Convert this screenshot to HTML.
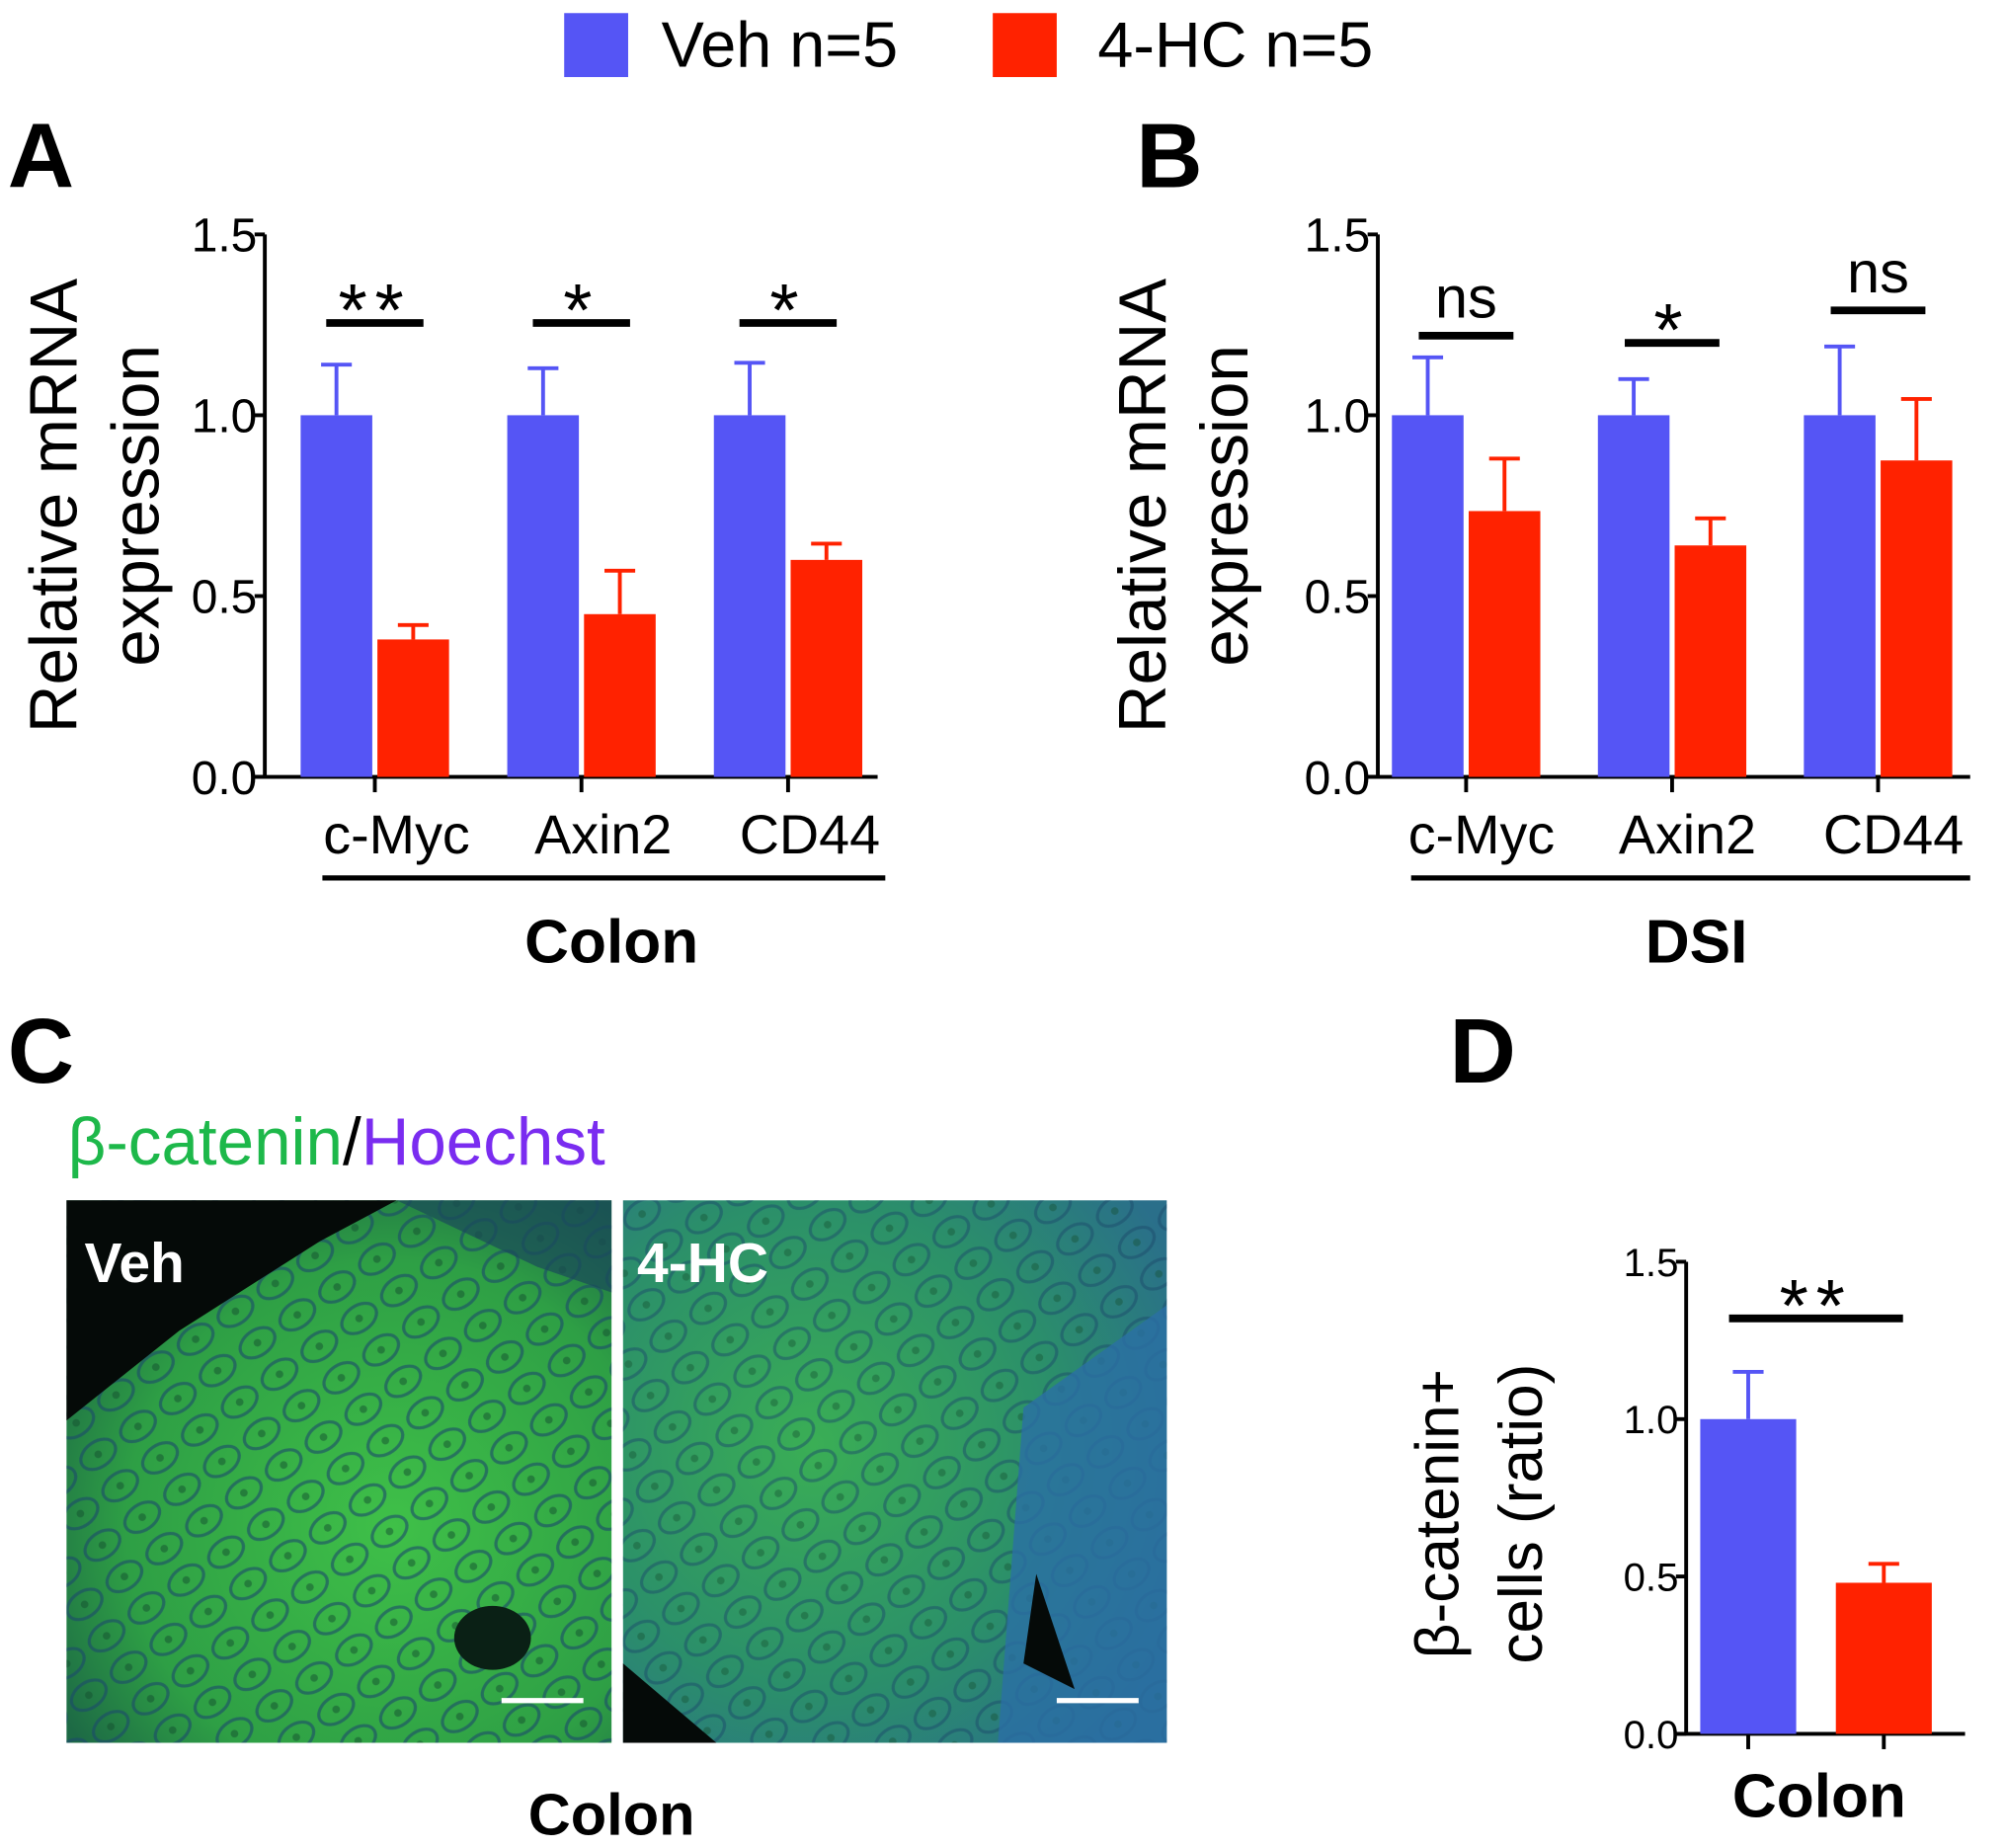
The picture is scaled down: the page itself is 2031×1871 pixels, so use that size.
<!DOCTYPE html>
<html><head><meta charset="utf-8"><style>
html,body{margin:0;padding:0;background:#fff;}
svg{display:block;}
text{font-family:"Liberation Sans",Arial,sans-serif;}
</style></head><body>
<svg id="fig" width="2031" height="1871" viewBox="0 0 1568 1444" xmlns="http://www.w3.org/2000/svg">
<defs>
<radialGradient id="gv" cx="0.6" cy="0.6" r="0.7"><stop offset="0" stop-color="#3fc048"/><stop offset="0.7" stop-color="#2e9f45"/><stop offset="1" stop-color="#1d6a45"/></radialGradient>
<radialGradient id="gh" cx="0.35" cy="0.45" r="0.75"><stop offset="0" stop-color="#3aae55"/><stop offset="0.6" stop-color="#2b8f6a"/><stop offset="1" stop-color="#2a6f8a"/></radialGradient>
<pattern id="crypt" width="38" height="30" patternUnits="userSpaceOnUse" patternTransform="rotate(-35)"><ellipse cx="19" cy="15" rx="15" ry="10" fill="none" stroke="#1a4a6a" stroke-width="2.5" opacity="0.6"/><circle cx="19" cy="15" r="3" fill="#145030" opacity="0.5"/></pattern>
</defs>
<g>
<rect x="441" y="10" width="50" height="50" fill="#5555f5"/>
<text x="517" y="52" font-size="50">Veh n=5</text>
<rect x="776" y="10" width="50" height="50" fill="#ff2200"/>
<text x="858" y="52" font-size="50">4-HC n=5</text>
</g>
<text x="6" y="146" font-size="72" font-weight="bold">A</text>
<text x="888" y="146" font-size="72" font-weight="bold">B</text>
<text x="6" y="846" font-size="72" font-weight="bold">C</text>
<text x="1133" y="846" font-size="72" font-weight="bold">D</text>
<g id="pa"></g>
<g id="pb"></g>
<g id="pd"></g>
<g>
<text x="53" y="910" font-size="52"><tspan fill="#1db84a">β-catenin</tspan><tspan fill="#000">/</tspan><tspan fill="#7a2cf0">Hoechst</tspan></text>
<g>
<rect x="52" y="938" width="426" height="424" fill="url(#gv)"/>
<rect x="52" y="938" width="426" height="424" fill="url(#crypt)"/>
<polygon points="52,938 310,938 250,970 140,1040 52,1110" fill="#050a08"/>
<polygon points="310,938 478,938 478,1010 420,990" fill="#1a4a5a" opacity="0.7"/>
<ellipse cx="385" cy="1280" rx="30" ry="25" fill="#0a2015"/>
<text x="66" y="1002" font-size="44" font-weight="bold" fill="#fff">Veh</text>
<line x1="392" y1="1329" x2="456" y2="1329" stroke="#fff" stroke-width="4"/>
</g>
<g>
<rect x="487" y="938" width="425" height="424" fill="url(#gh)"/>
<rect x="487" y="938" width="425" height="424" fill="url(#crypt)" opacity="0.8"/>
<polygon points="800,1100 912,1020 912,1362 780,1362" fill="#2a6fa5" opacity="0.8"/>
<polygon points="487,1300 487,1362 560,1362" fill="#050a08"/>
<polygon points="810,1230 840,1320 800,1300" fill="#050a08"/>
<text x="498" y="1002" font-size="44" font-weight="bold" fill="#fff">4-HC</text>
<line x1="826" y1="1329" x2="890" y2="1329" stroke="#fff" stroke-width="4"/>
</g>
<text x="478" y="1434" font-size="46" font-weight="bold" text-anchor="middle">Colon</text>
</g>
</svg>
<script>
// Panel A data
const catsA = ["c-Myc","Axin2","CD44"];
const vehA = [1.0,1.0,1.0];
const vehErrA = [0.14,0.13,0.145];
const hcA = [0.38,0.45,0.60];
const hcErrA = [0.04,0.12,0.045];
const sigA = ["**","*","*"];
// Panel B data
const catsB = ["c-Myc","Axin2","CD44"];
const vehB = [1.0,1.0,1.0];
const vehErrB = [0.16,0.10,0.19];
const hcB = [0.735,0.64,0.875];
const hcErrB = [0.145,0.075,0.17];
const sigB = ["ns","*","ns"];
const sigYB = [1.22,1.2,1.29];
// Panel D data
const catsD = ["Colon"];
const vehD = [1.0];
const vehErrD = [0.15];
const hcD = [0.48];
const hcErrD = [0.06];
const sigD = ["**"];
const ticks = [0,0.5,1.0,1.5];
const tickLabels = ["0.0","0.5","1.0","1.5"];

const NS="http://www.w3.org/2000/svg";
function mk(parent,tag,attrs,txt){const e=document.createElementNS(NS,tag);for(const k in attrs)e.setAttribute(k,attrs[k]);if(txt!==undefined)e.textContent=txt;parent.appendChild(e);return e;}

function yAxis(y0,y15){return v=>y0-(y0-y15)*v/1.5;}

function barChart(g,o){
  const y=yAxis(o.y0,o.y15);
  const gap=o.gap||4;
  const ax=mk(g,'line',{x1:o.ax,y1:o.y15,x2:o.ax,y2:o.y0,stroke:'#000','stroke-width':3});
  
  
  const xx=mk(g,'line',{x1:o.ax-8,y1:o.y0,x2:o.axEnd,y2:o.y0,stroke:'#000','stroke-width':3});
  
  
  ticks.forEach((t,i)=>{
    mk(g,'line',{x1:o.ax-8,y1:y(t),x2:o.ax,y2:y(t),stroke:'#000','stroke-width':3});
    const tl=mk(g,'text',{x:o.ax-6,y:y(t)+o.tfs*0.36,'font-size':o.tfs,'text-anchor':'end'},tickLabels[i]);
    
    
  });
  o.cats.forEach((c,i)=>{
    const gx=o.x0+i*o.step;
    const bars=[[gx,o.veh[i],o.vehErr[i],'#5555f5'],[gx+o.bw+gap,o.hc[i],o.hcErr[i],'#ff2200']];
    bars.forEach((b,j)=>{
      const cx=b[0]+o.bw/2, top=y(b[1]+b[2]);
      mk(g,'line',{x1:cx,y1:y(b[1]),x2:cx,y2:top,stroke:b[3],'stroke-width':3});
      mk(g,'line',{x1:cx-12,y1:top,x2:cx+12,y2:top,stroke:b[3],'stroke-width':3});
      const r=mk(g,'rect',{x:b[0],y:y(b[1]),width:o.bw,height:o.y0-y(b[1]),fill:b[3]});
      
      
      if(o.tickPerBar) mk(g,'line',{x1:cx,y1:o.y0,x2:cx,y2:o.y0+12,stroke:'#000','stroke-width':3});
    });
    const mid=gx+o.bw+gap/2;
    if(!o.tickPerBar) mk(g,'line',{x1:mid,y1:o.y0,x2:mid,y2:o.y0+12,stroke:'#000','stroke-width':3});
    if(o.showCats){
      const cl=mk(g,'text',{x:mid+o.catShift,y:o.y0+60,'font-size':43,'text-anchor':'middle'},c);
      
      
    }
    const sy=y(o.sigY?o.sigY[i]:o.sigDefault);
    const sl=mk(g,'line',{x1:mid-o.sigHalf,y1:sy,x2:mid+o.sigHalf,y2:sy,stroke:'#000','stroke-width':6});
    
    
    const isNs=o.sig[i]==='ns';
    const st=mk(g,'text',{x:mid,y:isNs?sy-14:sy+10,'font-size':isNs?46:58,'text-anchor':'middle','letter-spacing':isNs?0:6},o.sig[i]);
    
    
  });
}
const pa=document.getElementById('pa');
barChart(pa,{ax:207,axEnd:686,y0:607,y15:183,x0:235,step:161.5,bw:56,cats:catsA,veh:vehA,vehErr:vehErrA,hc:hcA,hcErr:hcErrA,sig:sigA,sigDefault:1.255,sigHalf:38,tfs:37,showCats:true,catShift:17});
const pb=document.getElementById('pb');
barChart(pb,{ax:1077,axEnd:1540,y0:607,y15:183,x0:1088,step:161,bw:56,cats:catsB,veh:vehB,vehErr:vehErrB,hc:hcB,hcErr:hcErrB,sig:sigB,sigY:sigYB,sigHalf:37,tfs:37,showCats:true,catShift:12});
const pd=document.getElementById('pd');
barChart(pd,{ax:1318,axEnd:1536,y0:1355,y15:986,x0:1329,step:0,bw:75,gap:31,tickPerBar:true,cats:catsD,veh:vehD,vehErr:vehErrD,hc:hcD,hcErr:hcErrD,sig:sigD,sigDefault:1.32,sigHalf:68,tfs:31,showCats:false,catShift:0});

function txt(parent,x,y,fs,s,name,extra){const t=mk(parent,'text',Object.assign({x:x,y:y,'font-size':fs},extra||{}),s);return t;}
const la=mk(pa,'line',{x1:252,y1:686,x2:692,y2:686,stroke:'#000','stroke-width':4});


txt(pa,478,752,48,'Colon','x-group-label',{'font-weight':'bold','text-anchor':'middle'});
txt(pa,60,395,52,'Relative mRNA','y-axis-title-line1',{'text-anchor':'middle',transform:'rotate(-90 60 395)'});
txt(pa,124,395,52,'expression','y-axis-title-line2',{'text-anchor':'middle',transform:'rotate(-90 124 395)'});
const lb=mk(pb,'line',{x1:1103,y1:686,x2:1540,y2:686,stroke:'#000','stroke-width':4});


txt(pb,1326,752,48,'DSI','x-group-label',{'font-weight':'bold','text-anchor':'middle'});
txt(pb,911,395,52,'Relative mRNA','y-axis-title-line1',{'text-anchor':'middle',transform:'rotate(-90 911 395)'});
txt(pb,975,395,52,'expression','y-axis-title-line2',{'text-anchor':'middle',transform:'rotate(-90 975 395)'});
txt(pd,1422,1420,48,'Colon','x-group-label',{'font-weight':'bold','text-anchor':'middle'});
txt(pd,1140,1183,48,'β-catenin+','y-axis-title-line1',{'text-anchor':'middle',transform:'rotate(-90 1140 1183)'});
txt(pd,1205,1183,48,'cells (ratio)','y-axis-title-line2',{'text-anchor':'middle',transform:'rotate(-90 1205 1183)'});
</script>
</body></html>
